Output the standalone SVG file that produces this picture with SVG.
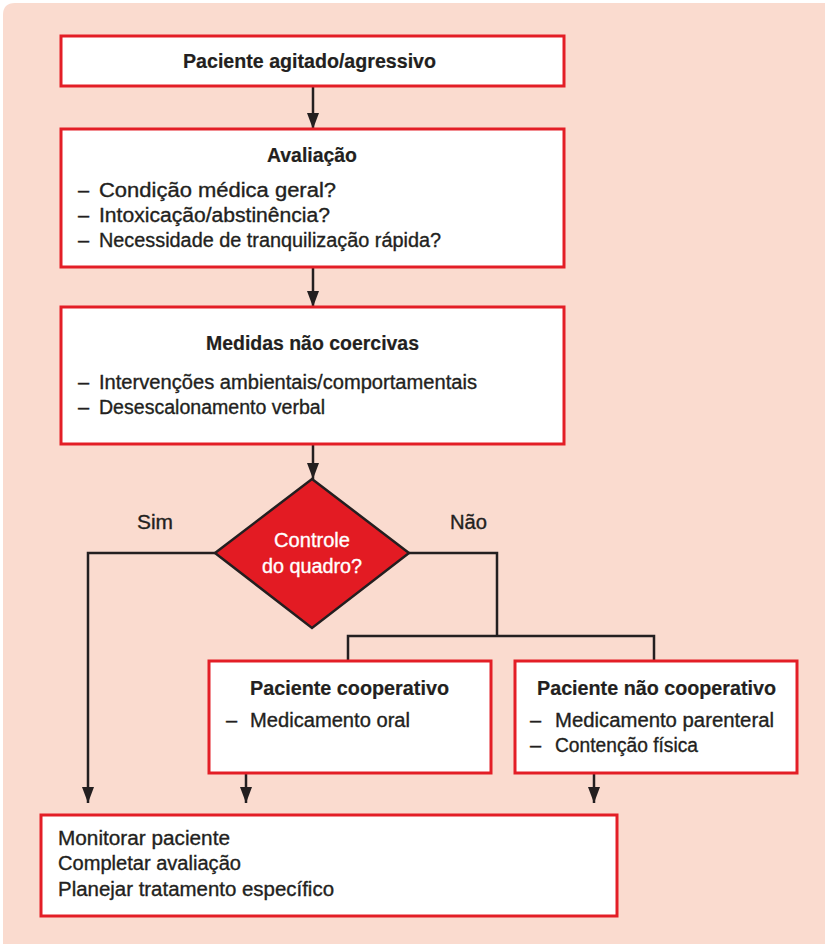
<svg xmlns="http://www.w3.org/2000/svg" width="825" height="944" viewBox="0 0 825 944">
  <defs>
    <marker id="arrow" viewBox="0 0 16 12" refX="16" refY="6" markerWidth="16" markerHeight="12" markerUnits="userSpaceOnUse" orient="auto" preserveAspectRatio="none">
      <path d="M0,0 L16,6 L0,12 Z" fill="#231f20"/>
    </marker>
    <style>
      .box { fill: #ffffff; stroke: #e31e26; stroke-width: 3; }
      .link { fill: none; stroke: #231f20; stroke-width: 2.5; }
      .t { font-family: "Liberation Sans", Arial, sans-serif; font-size: 20px; fill: #231f20; stroke: #231f20; stroke-width: 0.35; }
      .b { font-weight: bold; stroke-width: 0.2; }
      .w { fill: #ffffff; stroke: #ffffff; }
    </style>
  </defs>

  <rect width="825" height="944" fill="#ffffff"/>
  <path d="M15,3 H825 V944 H3 V15 Q3,3 15,3 Z" fill="#fadbcf"/>

  <g id="connectors">
    <line class="link" x1="313" y1="86" x2="313" y2="129" marker-end="url(#arrow)"/>
    <line class="link" x1="313" y1="267" x2="313" y2="307" marker-end="url(#arrow)"/>
    <line class="link" x1="313" y1="444" x2="313" y2="479" marker-end="url(#arrow)"/>
    <polyline class="link" points="215,553 88,553 88,803" marker-end="url(#arrow)"/>
    <polyline class="link" points="409,553 497,553 497,637"/>
    <polyline class="link" points="348,661 348,636 654,636 654,661"/>
    <line class="link" x1="246" y1="773" x2="246" y2="803" marker-end="url(#arrow)"/>
    <line class="link" x1="594" y1="773" x2="594" y2="803" marker-end="url(#arrow)"/>
    <text class="t" x="137" y="529" textLength="36" lengthAdjust="spacingAndGlyphs">Sim</text>
    <text class="t" x="450" y="529" textLength="37" lengthAdjust="spacingAndGlyphs">Não</text>
  </g>

  <g id="start">
    <rect class="box" x="61" y="36" width="503" height="50"/>
    <text class="t b" x="183" y="68" textLength="253" lengthAdjust="spacingAndGlyphs">Paciente agitado/agressivo</text>
  </g>

  <g id="assessment">
    <rect class="box" x="61" y="129" width="503" height="138"/>
    <text class="t b" x="267" y="162" textLength="90" lengthAdjust="spacingAndGlyphs">Avaliação</text>
    <text class="t" x="78" y="197">–</text><text class="t" x="99" y="197" textLength="237" lengthAdjust="spacingAndGlyphs">Condição médica geral?</text>
    <text class="t" x="78" y="222">–</text><text class="t" x="99" y="222" textLength="231" lengthAdjust="spacingAndGlyphs">Intoxicação/abstinência?</text>
    <text class="t" x="78" y="247">–</text><text class="t" x="99" y="247" textLength="342" lengthAdjust="spacingAndGlyphs">Necessidade de tranquilização rápida?</text>
  </g>

  <g id="non-coercive">
    <rect class="box" x="61" y="307" width="503" height="137"/>
    <text class="t b" x="206" y="350" textLength="213" lengthAdjust="spacingAndGlyphs">Medidas não coercivas</text>
    <text class="t" x="78" y="389">–</text><text class="t" x="99" y="389" textLength="378" lengthAdjust="spacingAndGlyphs">Intervenções ambientais/comportamentais</text>
    <text class="t" x="78" y="414">–</text><text class="t" x="99" y="414" textLength="226" lengthAdjust="spacingAndGlyphs">Desescalonamento verbal</text>
  </g>

  <g id="decision">
    <polygon points="312,479 409,553 312,628 215,553" fill="#e31b23" stroke="#231f20" stroke-width="2.5"/>
    <text class="t w" x="274" y="547" textLength="76" lengthAdjust="spacingAndGlyphs">Controle</text>
    <text class="t w" x="262" y="573" textLength="100" lengthAdjust="spacingAndGlyphs">do quadro?</text>
  </g>

  <g id="cooperative">
    <rect class="box" x="209" y="661" width="282" height="112"/>
    <text class="t b" x="250" y="695" textLength="199" lengthAdjust="spacingAndGlyphs">Paciente cooperativo</text>
    <text class="t" x="226" y="727">–</text><text class="t" x="250" y="727" textLength="160" lengthAdjust="spacingAndGlyphs">Medicamento oral</text>
  </g>

  <g id="non-cooperative">
    <rect class="box" x="515" y="661" width="282" height="112"/>
    <text class="t b" x="537" y="695" textLength="239" lengthAdjust="spacingAndGlyphs">Paciente não cooperativo</text>
    <text class="t" x="530" y="727">–</text><text class="t" x="555" y="727" textLength="219" lengthAdjust="spacingAndGlyphs">Medicamento parenteral</text>
    <text class="t" x="530" y="752">–</text><text class="t" x="555" y="752" textLength="143" lengthAdjust="spacingAndGlyphs">Contenção física</text>
  </g>

  <g id="follow-up">
    <rect class="box" x="41" y="815" width="576" height="101"/>
    <text class="t" x="58" y="845" textLength="172" lengthAdjust="spacingAndGlyphs">Monitorar paciente</text>
    <text class="t" x="58" y="870" textLength="183" lengthAdjust="spacingAndGlyphs">Completar avaliação</text>
    <text class="t" x="58" y="896" textLength="276" lengthAdjust="spacingAndGlyphs">Planejar tratamento específico</text>
  </g>
</svg>
